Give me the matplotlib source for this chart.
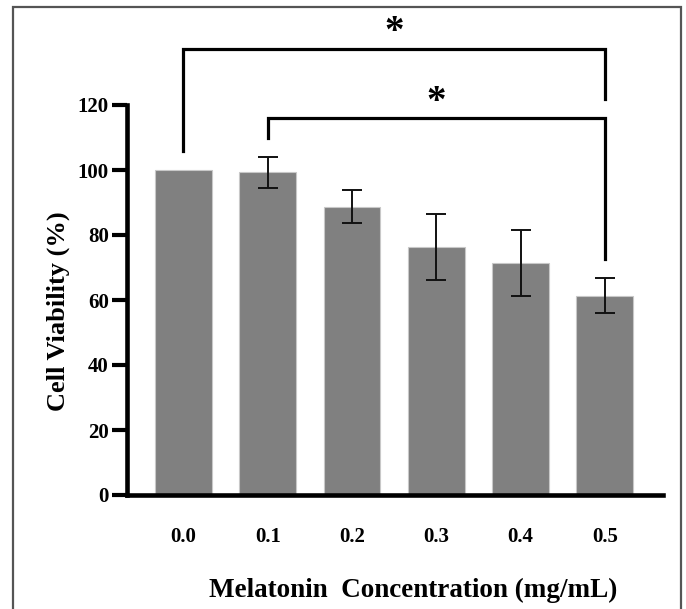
import numpy as np
import matplotlib
matplotlib.use("Agg")
import matplotlib.pyplot as plt
from matplotlib.patches import Rectangle

# data
concentrations = ["0.0", "0.1", "0.2", "0.3", "0.4", "0.5"]
viability = [100.0, 99.3, 88.7, 76.3, 71.4, 61.3]
viability_err = [0.0, 4.7, 5.0, 10.2, 10.2, 5.4]
yticks = [0, 20, 40, 60, 80, 100, 120]

# significance brackets: (left bar, right bar, bar height, left leg end, right leg end, star y)
brackets = [
    (0, 5, 137.2, 105.8, 121.8, 142.3),
    (1, 5, 116.0, 109.8, 72.6, 120.8),
]

plt.rcParams['font.family'] = ['Liberation Serif', 'DejaVu Serif']
plt.rcParams['font.weight'] = 'bold'

fig = plt.figure(figsize=(6.86, 6.09), dpi=100)
ax = fig.add_axes([127/686, 1 - 495/609, (663 - 127)/686, (495 - 105)/609])

x = np.arange(len(concentrations))
ax.bar(x, viability, width=0.675, color="#808080", edgecolor="#c8c8c8", linewidth=0.8, zorder=2)
ax.errorbar(x[1:], viability[1:], yerr=viability_err[1:], fmt="none", ecolor="#111111",
            elinewidth=1.4, capsize=7, capthick=1.4, zorder=3)

ax.set_xlim(-0.67, 5.69)
ax.set_ylim(0, 120)
ax.set_yticks(yticks)
ax.set_xticks(x)
ax.set_xticklabels(concentrations)
ax.tick_params(axis="y", length=11, width=3, labelsize=15, pad=2)
ax.tick_params(axis="x", length=0, labelsize=15, pad=23)
for lab in ax.get_xticklabels() + ax.get_yticklabels():
    lab.set_fontweight("bold")

for side in ["top", "right"]:
    ax.spines[side].set_visible(False)
for side in ["left", "bottom"]:
    ax.spines[side].set_linewidth(3.3)
    ax.spines[side].set_color("black")

# brackets with stars
for i0, i1, h, l_end, r_end, star_y in brackets:
    ax.plot([i0, i0, i1, i1], [l_end, h, h, r_end], color="black", lw=2.3,
            clip_on=False, solid_joinstyle="miter", zorder=4)
    ax.text((i0 + i1) / 2, star_y, "*", ha="center", va="center", fontsize=28,
            fontweight="bold", clip_on=False)

fig.text(58/686, 1 - 311/609, "Cell Viability (%)", rotation=90, ha="center", va="center",
         fontsize=19, fontweight="bold")
fig.text(413/686, 1 - 590/609, "Melatonin  Concentration (mg/mL)", ha="center", va="center",
         fontsize=19.5, fontweight="bold")

# outer frame
fig.patches.append(Rectangle((13/686, -0.05), (681 - 13)/686, 1.05 - 7/609, transform=fig.transFigure,
                             fill=False, edgecolor="#555555", linewidth=1.6))

fig.savefig("out.png", dpi=100)
